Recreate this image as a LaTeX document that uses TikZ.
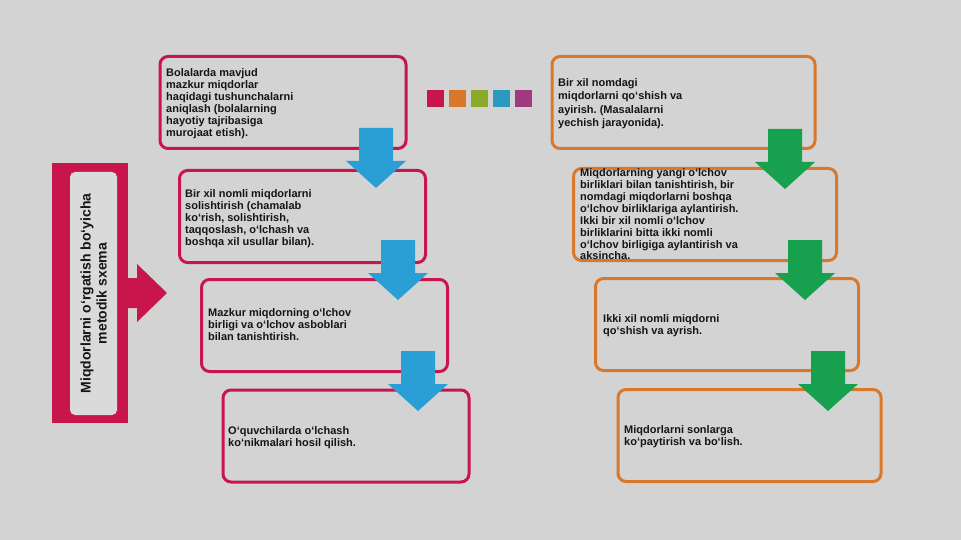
\documentclass[tikz,border=0pt]{standalone}
\usepackage{fontspec}
\setmainfont{Liberation Sans}
\frenchspacing
\definecolor{bg}{HTML}{D3D3D3}
\definecolor{crim}{HTML}{C8164C}
\definecolor{orng}{HTML}{D9782A}
\definecolor{arrblue}{HTML}{2A9FD6}
\definecolor{arrgreen}{HTML}{17A04E}
\definecolor{sqgreen}{HTML}{8AAB2A}
\definecolor{sqblue}{HTML}{2A9AC0}
\definecolor{sqpurple}{HTML}{A03A80}
\definecolor{inner}{HTML}{DADADA}
\definecolor{txt}{HTML}{151515}
\newcommand{\blockarrowdown}[3]{%
  \fill[#1] (#2-17,#3) -- (#2+17,#3) -- (#2+17,#3+33) -- (#2+30,#3+33) -- (#2,#3+60) -- (#2-30,#3+33) -- (#2-17,#3+33) -- cycle;}
\begin{document}
\begin{tikzpicture}[x=1pt,y=-1pt,
  lbox/.style={draw=crim,line width=3pt,rounded corners=8pt,minimum width=246pt,minimum height=92pt,inner sep=0pt},
  rbox/.style={draw=orng,line width=3pt,rounded corners=8pt,minimum width=263pt,minimum height=92pt,inner sep=0pt},
  btxt/.style={anchor=north west,inner sep=0pt,align=left,text=txt,font=\bfseries\fontsize{11}{11.9}\selectfont},
  sq/.style={minimum size=17pt,inner sep=0pt}]
\fill[bg] (0,0) rectangle (961,540);
\useasboundingbox (0,0) rectangle (961,540);
% left block
\fill[crim] (52,163) rectangle (128,423);
\fill[crim] (127,278) -- (137,278) -- (137,264) -- (167,293) -- (137,322) -- (137,308) -- (127,308) -- cycle;
\node[fill=inner,rounded corners=5pt,minimum width=47pt,minimum height=243pt,inner sep=0pt] (side) at (93.5,293.5) {};
\node[rotate=90,align=center,text=txt,font=\bfseries\fontsize{14}{16}\selectfont] (sidetxt) at (side.center) {Miqdorlarni o‘rgatish bo‘yicha\\metodik sxema};
% squares
\node[sq,fill=crim] (s1) at (435.5,98.5) {};
\node[sq,fill=orng] (s2) at (457.5,98.5) {};
\node[sq,fill=sqgreen] (s3) at (479.5,98.5) {};
\node[sq,fill=sqblue] (s4) at (501.5,98.5) {};
\node[sq,fill=sqpurple] (s5) at (523.5,98.5) {};
% left boxes
\node[lbox] (l1) at (283,102.5) {};
\node[lbox] (l2) at (302.5,216.5) {};
\node[lbox] (l3) at (324.5,325.5) {};
\node[lbox] (l4) at (346,436) {};
% right boxes
\node[rbox] (r1) at (683.5,102.5) {};
\node[rbox] (r2) at (705,214.5) {};
\node[rbox] (r3) at (727,324.5) {};
\node[rbox] (r4) at (749.5,435.5) {};
% texts
\node[btxt] (tl1) at (166,68.5) {Bolalarda mavjud\\mazkur miqdorlar\\haqidagi tushunchalarni\\aniqlash (bolalarning\\hayotiy tajribasiga\\murojaat etish).};
\node[btxt] (tl2) at (185,189.5) {Bir xil nomli miqdorlarni\\solishtirish (chamalab\\ko‘rish, solishtirish,\\taqqoslash, o‘lchash va\\boshqa xil usullar bilan).};
\node[btxt] (tl3) at (208,308.5) {Mazkur miqdorning o‘lchov\\birligi va o‘lchov asboblari\\bilan tanishtirish.};
\node[btxt] (tl4) at (228,426.5) {O‘quvchilarda o‘lchash\\ko‘nikmalari hosil qilish.};
\node[btxt,font=\bfseries\fontsize{11}{13.3}\selectfont] (tr1) at (558,78.5) {Bir xil nomdagi\\miqdorlarni qo‘shish va\\ayirish. (Masalalarni\\yechish jarayonida).};
\node[btxt] (tr2) at (580,168.5) {Miqdorlarning yangi o‘lchov\\birliklari bilan tanishtirish, bir\\nomdagi miqdorlarni boshqa\\o‘lchov birliklariga aylantirish.\\Ikki bir xil nomli o‘lchov\\birliklarini bitta ikki nomli\\o‘lchov birligiga aylantirish va\\aksincha.};
\node[btxt] (tr3) at (603,314.5) {Ikki xil nomli miqdorni\\qo‘shish va ayrish.};
\node[btxt] (tr4) at (624,425.5) {Miqdorlarni sonlarga\\ko‘paytirish va bo‘lish.};
% arrows
\blockarrowdown{arrblue}{376}{128}
\blockarrowdown{arrblue}{398}{240}
\blockarrowdown{arrblue}{418}{351}
\blockarrowdown{arrgreen}{785}{129}
\blockarrowdown{arrgreen}{805}{240}
\blockarrowdown{arrgreen}{828}{351}
\end{tikzpicture}
\end{document}
